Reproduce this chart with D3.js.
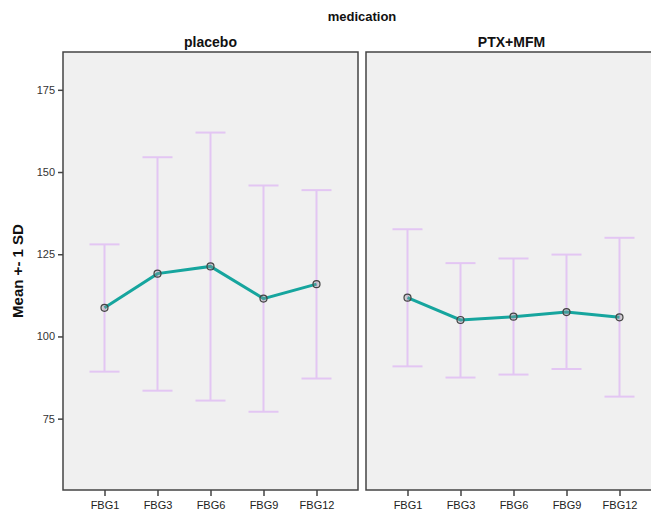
<!DOCTYPE html>
<html>
<head>
<meta charset="utf-8">
<script src="https://cdn.jsdelivr.net/npm/d3@7"></script>
<style>
  body { margin: 0; background: #fff; }
  svg { display: block; }
</style>
</head>
<body>
<svg id="chart" width="651" height="513"></svg>
<script>
// data
const timepoints = ['FBG1', 'FBG3', 'FBG6', 'FBG9', 'FBG12'];
const groups = ['placebo', 'PTX+MFM'];
const placeboMean = [108.7, 119.1, 121.3, 111.5, 115.9];
const placeboUpper = [128.0, 154.5, 162.0, 145.9, 144.5];
const placeboLower = [89.3, 83.5, 80.5, 77.1, 87.2];
const ptxMean = [111.8, 105.0, 106.0, 107.4, 105.8];
const ptxUpper = [132.6, 122.3, 123.7, 124.9, 130.0];
const ptxLower = [90.9, 87.5, 88.4, 90.1, 81.7];
const yTicks = [75, 100, 125, 150, 175];

const series = [
  { name: groups[0], mean: placeboMean, upper: placeboUpper, lower: placeboLower },
  { name: groups[1], mean: ptxMean, upper: ptxUpper, lower: ptxLower },
];

const svg = d3.select('#chart');
const font = 'Arial, "Liberation Sans", sans-serif';

const marginTop = 52;
const panelBottom = 490;
const panelWidth = 295;
const panelLeft = [63, 366];

const y = d3.scaleLinear().domain([53.3, 186.5]).range([panelBottom, marginTop]);

// overall facet title
svg.append('text')
  .attr('x', 362).attr('y', 21)
  .attr('text-anchor', 'middle')
  .style('font', `bold 13px ${font}`)
  .attr('fill', '#111')
  .text('medication');

// y axis title
svg.append('text')
  .attr('transform', 'translate(23,271) rotate(-90)')
  .attr('text-anchor', 'middle')
  .style('font', `bold 15px ${font}`)
  .attr('fill', '#111')
  .text('Mean +- 1 SD');

series.forEach((s, i) => {
  const left = panelLeft[i];
  const x = d3.scalePoint()
    .domain(timepoints)
    .range([left, left + panelWidth])
    .padding(0.783);

  const g = svg.append('g');

  // panel background
  g.append('rect')
    .attr('x', left).attr('y', marginTop)
    .attr('width', panelWidth).attr('height', panelBottom - marginTop)
    .attr('fill', '#f0f0f0')
    .attr('stroke', '#444')
    .attr('stroke-width', 1.5);

  // panel title
  g.append('text')
    .attr('x', left + panelWidth / 2 - (i === 1 ? 2 : 0)).attr('y', 47)
    .attr('text-anchor', 'middle')
    .style('font', `bold 14px ${font}`)
    .attr('fill', '#111')
    .text(s.name);

  // x axis
  g.append('g')
    .attr('transform', `translate(0,${panelBottom})`)
    .call(d3.axisBottom(x).tickSize(6).tickPadding(5))
    .call((a) => a.select('.domain').remove())
    .call((a) => a.selectAll('.tick line').attr('stroke', '#444').attr('stroke-width', 1.5))
    .call((a) => a.selectAll('.tick text')
      .style('font', `11px ${font}`).attr('fill', '#222'));

  // y axis only on first panel
  if (i === 0) {
    g.append('g')
      .attr('transform', `translate(${left},0)`)
      .call(d3.axisLeft(y).tickValues(yTicks).tickSize(5).tickPadding(3))
      .call((a) => a.select('.domain').remove())
      .call((a) => a.selectAll('.tick line').attr('stroke', '#444').attr('stroke-width', 1.5))
      .call((a) => a.selectAll('.tick text')
        .style('font', `11px ${font}`).attr('fill', '#333'));
  }

  const pts = timepoints.map((t, j) => ({
    t, mean: s.mean[j], upper: s.upper[j], lower: s.lower[j],
  }));

  const barColor = '#e3c6f3';
  const cap = 15;

  // error bars
  const eb = g.append('g').attr('stroke', barColor).attr('stroke-width', 2).attr('fill', 'none');
  eb.selectAll('.whisk').data(pts).join('line')
    .attr('x1', (d) => x(d.t)).attr('x2', (d) => x(d.t))
    .attr('y1', (d) => y(d.upper)).attr('y2', (d) => y(d.lower));
  eb.selectAll('.capTop').data(pts).join('line')
    .attr('x1', (d) => x(d.t) - cap).attr('x2', (d) => x(d.t) + cap)
    .attr('y1', (d) => y(d.upper)).attr('y2', (d) => y(d.upper));
  eb.selectAll('.capBot').data(pts).join('line')
    .attr('x1', (d) => x(d.t) - cap).attr('x2', (d) => x(d.t) + cap)
    .attr('y1', (d) => y(d.lower)).attr('y2', (d) => y(d.lower));

  // mean line
  g.append('path')
    .datum(pts)
    .attr('fill', 'none')
    .attr('stroke', '#16a59e')
    .attr('stroke-width', 3)
    .attr('d', d3.line().x((d) => x(d.t)).y((d) => y(d.mean)));

  // markers
  g.selectAll('circle').data(pts).join('circle')
    .attr('cx', (d) => x(d.t)).attr('cy', (d) => y(d.mean))
    .attr('r', 3.5)
    .attr('fill', 'rgba(150,150,150,0.35)')
    .attr('stroke', '#444')
    .attr('stroke-width', 1.2);
});
</script>
</body>
</html>
